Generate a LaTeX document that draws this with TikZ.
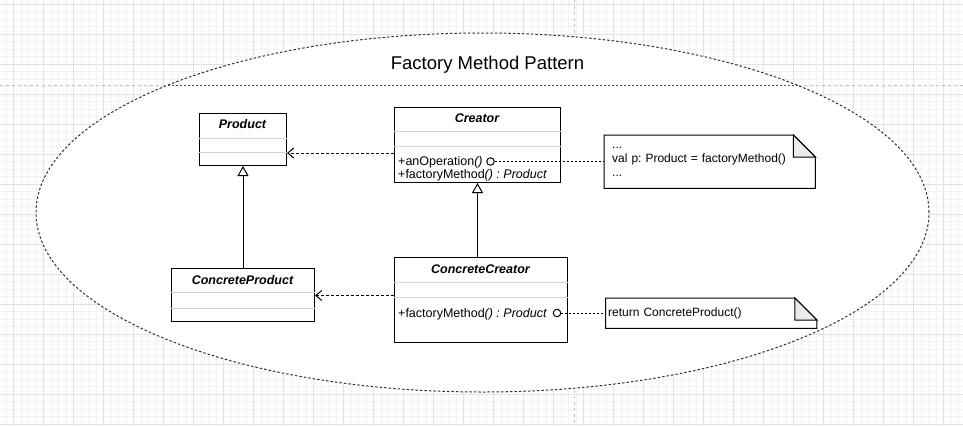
\documentclass[tikz,border=0pt]{standalone}
\usepackage{fontspec}
\setmainfont{Liberation Sans}
\usepackage{tikz}
\usepackage{xcolor}
\usetikzlibrary{arrows.meta}
\frenchspacing

\definecolor{gridminor}{HTML}{F3F3F3}
\definecolor{gridmajor}{HTML}{E2E2E2}
\definecolor{pagebreak}{HTML}{C4C4C4}
\definecolor{sepgrey}{HTML}{D4D4D4}
\definecolor{foldgrey}{HTML}{EBEBEB}

\begin{document}
\begin{tikzpicture}[x=1pt, y=-1pt,
    classbox/.style={draw, line width=1pt, inner sep=0pt, anchor=north west},
    classname/.style={anchor=base, inner sep=0pt, font=\fontsize{12.5}{15}\selectfont\bfseries\itshape},
    member/.style={anchor=base west, inner sep=0pt, font=\fontsize{12.5}{15}\selectfont},
    compsep/.style={draw=sepgrey, line width=1pt},
    notebox/.style={anchor=north west, align=left, inner ysep=0pt, font=\fontsize{12}{14.3}\selectfont},
    noteedge/.style={line width=1pt},
    depline/.style={line width=1pt, dash pattern=on 3pt off 2pt, -{Straight Barb[length=6pt, width=10pt]}},
    genline/.style={line width=1pt, -{Triangle[open, length=10pt, width=11pt, fill=white]}},
    noteline/.style={line width=1pt, dash pattern=on 2pt off 2pt},
    port/.style={circle, draw, fill=white, line width=1pt, minimum size=7.5pt, inner sep=0pt}]

            \useasboundingbox (0,0) rectangle (963,426);

            \foreach \i in {0,...,127} \draw[gridminor, line width=0.6pt] (5.8+7.5*\i,0) -- (5.8+7.5*\i,426);
            \foreach \i in {0,...,56}  \draw[gridminor, line width=0.6pt] (0,4+7.5*\i) -- (963,4+7.5*\i);
            \foreach \i in {0,...,31}  \draw[gridmajor, line width=0.7pt] (13.3+30*\i,0) -- (13.3+30*\i,426);
            \foreach \i in {0,...,14}  \draw[gridmajor, line width=0.7pt] (0,4+30*\i) -- (963,4+30*\i);

            \draw[pagebreak, line width=0.9pt, dash pattern=on 3pt off 3pt] (0,85.3) -- (963,85.3);
            \draw[pagebreak, line width=0.9pt, dash pattern=on 3pt off 3pt] (574.3,0) -- (574.3,426);

            \draw[black!80, fill=white, line width=1pt, dash pattern=on 2.5pt off 2pt]
                (482.5,212.5) ellipse [x radius=446.5pt, y radius=179.5pt];
            \begin{scope}
                \clip (482.5,212.5) ellipse [x radius=446.5pt, y radius=179.5pt];
                \draw[black!70, line width=1pt, dash pattern=on 2pt off 2pt] (0,85.3) -- (963,85.3);
            \end{scope}

            \node[anchor=base, inner sep=0pt, font=\fontsize{18.5}{22}\selectfont] (title) at (487.5,69) {Factory Method Pattern};

            \node[classbox, minimum width=87pt,  minimum height=52pt] (product)         at (199,113)   {};
            \node[classbox, minimum width=166pt, minimum height=75pt] (creator)         at (394,107)   {};
            \node[classbox, minimum width=143pt, minimum height=53pt] (concreteproduct) at (171,268)   {};
            \node[classbox, minimum width=173pt, minimum height=85pt] (concretecreator) at (394,256.5) {};

            \node[classname] (producttitle)         at (242.5,128.5) {Product};
            \node[classname] (creatortitle)         at (477,122)     {Creator};
            \node[classname] (concreteproducttitle) at (242.5,284)   {ConcreteProduct};
            \node[classname] (concretecreatortitle) at (480.5,273)   {ConcreteCreator};

            \draw[compsep] ([yshift=-25pt]product.north west) -- ([yshift=-25pt]product.north east);
            \draw[compsep] ([yshift=-39pt]product.north west) -- ([yshift=-39pt]product.north east);
            \draw[compsep] ([yshift=-24.5pt]creator.north west) -- ([yshift=-24.5pt]creator.north east);
            \draw[compsep] ([yshift=-39.5pt]creator.north west) -- ([yshift=-39.5pt]creator.north east);
            \draw[compsep] ([yshift=-24.5pt]concreteproduct.north west) -- ([yshift=-24.5pt]concreteproduct.north east);
            \draw[compsep] ([yshift=-40pt]concreteproduct.north west) -- ([yshift=-40pt]concreteproduct.north east);
            \draw[compsep] ([yshift=-25.5pt]concretecreator.north west) -- ([yshift=-25.5pt]concretecreator.north east);
            \draw[compsep] ([yshift=-40.5pt]concretecreator.north west) -- ([yshift=-40.5pt]concretecreator.north east);

            \node[member] (anoperation)    at (398,165.5) {+anOperation\textit{()}};
            \node[member] (factorymethod)  at (398,178.5) {+factoryMethod\textit{() : Product}};
            \node[member] (factorymethod2) at (398,317.5) {+factoryMethod\textit{() : Product}};

            \node[port] (port1) at (490.5,161.5) {};
            \node[port] (port2) at (557,313)     {};

            \node[notebox, text width=195pt, inner xsep=8pt, minimum height=53pt] (note1) at (604,135)
                {...\\val p: Product = factoryMethod()\\...};
            \node[notebox, text width=206pt, inner xsep=2.5pt, minimum height=30pt] (note2) at (605.5,298)
                {return ConcreteProduct()};

            \draw[noteedge] (note1.north west) -- ([xshift=-22pt]note1.north east) -- ([yshift=-22pt]note1.north east)
                -- (note1.south east) -- (note1.south west) -- cycle;
            \draw[noteedge, fill=foldgrey] ([xshift=-22pt]note1.north east) -- ([xshift=-22pt, yshift=-22pt]note1.north east)
                -- ([yshift=-22pt]note1.north east) -- cycle;
            \draw[noteedge] (note2.north west) -- ([xshift=-22pt]note2.north east) -- ([yshift=-22pt]note2.north east)
                -- (note2.south east) -- (note2.south west) -- cycle;
            \draw[noteedge, fill=foldgrey] ([xshift=-22pt]note2.north east) -- ([xshift=-22pt, yshift=-22pt]note2.north east)
                -- ([yshift=-22pt]note2.north east) -- cycle;

            \coordinate (dep1) at ([yshift=-8pt]creator.west);
            \coordinate (dep2) at ([yshift=4pt]concretecreator.west);
            \draw[depline] (dep1) -- (dep1 -| product.east);
            \draw[depline] (dep2) -- (dep2 -| concreteproduct.east);

            \draw[genline] (concreteproduct.north) -- (product.south);
            \draw[genline] (creator.south |- concretecreator.north) -- (creator.south);

            \draw[noteline] (port1) -- (port1 -| note1.west);
            \draw[noteline] (port2) -- (port2 -| note2.west);
        \end{tikzpicture}
\end{document}
